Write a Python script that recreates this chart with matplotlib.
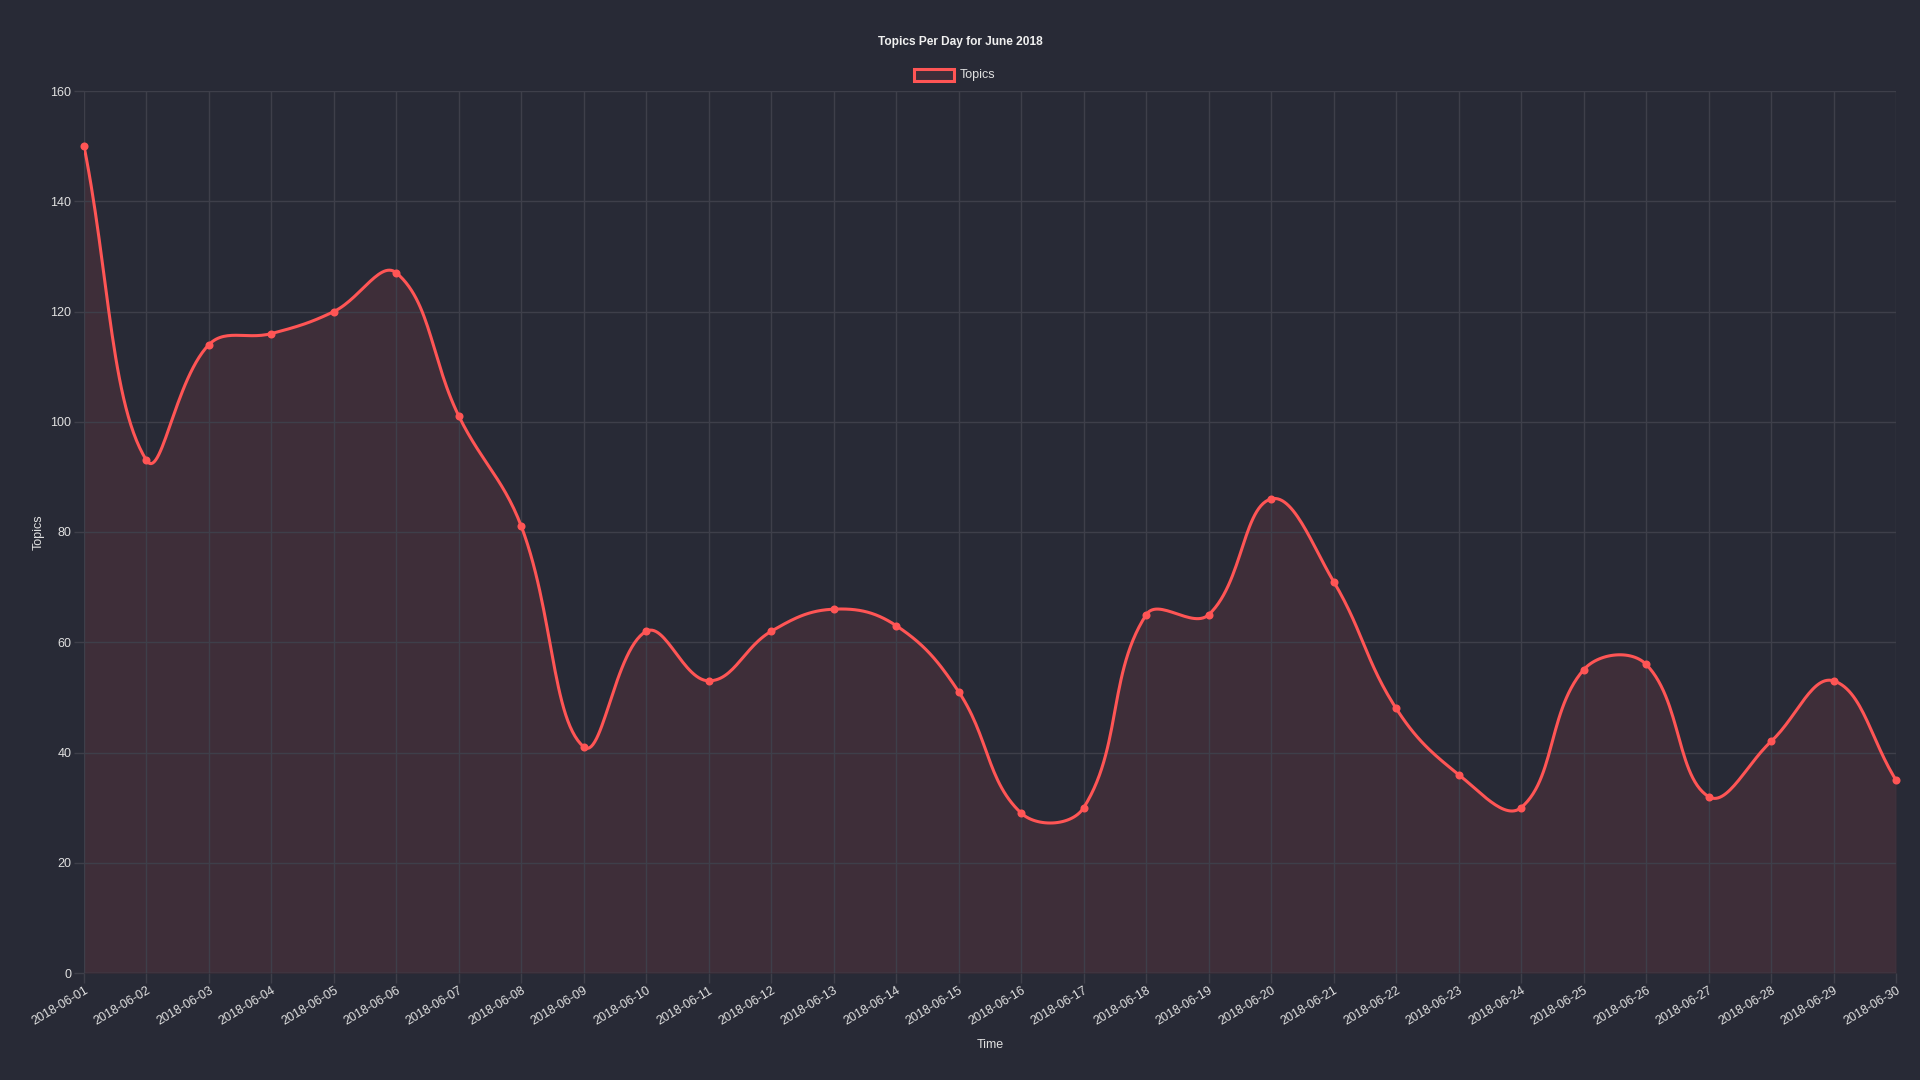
import numpy as np
import matplotlib.pyplot as plt
from matplotlib.patches import Rectangle

# data
dates = ['2018-06-%02d' % d for d in range(1, 31)]
topics = [150, 93, 114, 116, 120, 127, 101, 81, 41, 62,
          53, 62, 66, 63, 51, 29, 30, 65, 65, 86,
          71, 48, 36, 30, 55, 56, 32, 42, 53, 35]

bg = '#282a36'
red = '#ff5555'
grid = '#3e3f4a'   # white at 10% over the background
txt = '#e0e0e0'

plt.rcParams['font.family'] = ['Liberation Sans', 'DejaVu Sans']

fig = plt.figure(figsize=(19.2, 10.8), dpi=100, facecolor=bg)
ax = fig.add_axes([84 / 1920, 1 - 973 / 1080, (1896 - 84) / 1920, (973 - 91) / 1080])
ax.set_facecolor(bg)
ax.set_xlim(0, len(dates) - 1)
ax.set_ylim(0, 160)


def chartjs_curve(xs, ys, t=0.4, steps=30):
    # same control points as Chart.js line tension, in pixel space
    pts = ax.transData.transform(np.column_stack([xs, ys]))
    n = len(pts)
    cps = []
    for i in range(n):
        cur = pts[i]
        prev = pts[i - 1] if i > 0 else cur
        nxt = pts[i + 1] if i < n - 1 else cur
        d01 = np.hypot(*(cur - prev))
        d12 = np.hypot(*(nxt - cur))
        s = d01 + d12
        s01 = d01 / s if s else 0
        s12 = d12 / s if s else 0
        cps.append((cur - t * s01 * (nxt - prev), cur + t * s12 * (nxt - prev)))
    out = [pts[0]]
    u = np.linspace(0, 1, steps)[1:, None]
    for i in range(n - 1):
        p0, p3 = pts[i], pts[i + 1]
        p1, p2 = cps[i][1], cps[i + 1][0]
        seg = (1 - u) ** 3 * p0 + 3 * (1 - u) ** 2 * u * p1 + 3 * (1 - u) * u ** 2 * p2 + u ** 3 * p3
        out.extend(seg)
    out = np.array(out)
    return ax.transData.inverted().transform(out)


x = np.arange(len(dates))
curve = chartjs_curve(x, topics)
ax.fill_between(curve[:, 0], curve[:, 1], 0, color='#3e2e39', linewidth=0, zorder=1)
ax.plot(curve[:, 0], curve[:, 1], color=red, linewidth=2.2, solid_capstyle='round', zorder=4)
ax.plot(x, topics, 'o', color=red, markersize=5.8, markeredgewidth=0, zorder=5, clip_on=False)

ax.set_xticks(x)
ax.set_xticklabels(dates, rotation=31, ha='right', va='top', rotation_mode='anchor')
ax.set_yticks(range(0, 161, 20))
ax.grid(True, color=grid, linewidth=1, zorder=2)
ax.tick_params(colors=grid, labelcolor=txt, labelsize=9, length=7.2, width=1, pad=1)
ax.tick_params(axis='y', pad=2)
for s in ax.spines.values():
    s.set_visible(False)
ax.axhline(0, color='#44454f', linewidth=1, zorder=3)

ax.set_xlabel('Time', color=txt, fontsize=9, labelpad=8)
ax.set_ylabel('Topics', color=txt, fontsize=9, labelpad=4)

fig.text(0.5, 1 - 42 / 1080, 'Topics Per Day for June 2018', color='#f0f0f0',
         fontsize=8.6, fontweight='bold', ha='center', va='center')
# legend
fig.patches.append(Rectangle((914 / 1920, 1 - 81 / 1080), 40 / 1920, 12 / 1080,
                             transform=fig.transFigure, facecolor='#3e2e39',
                             edgecolor=red, linewidth=2.2, figure=fig))
fig.text(960 / 1920, 1 - 75 / 1080, 'Topics', color=txt, fontsize=9, ha='left', va='center')

fig.savefig('out.png', dpi=100, facecolor=bg)
